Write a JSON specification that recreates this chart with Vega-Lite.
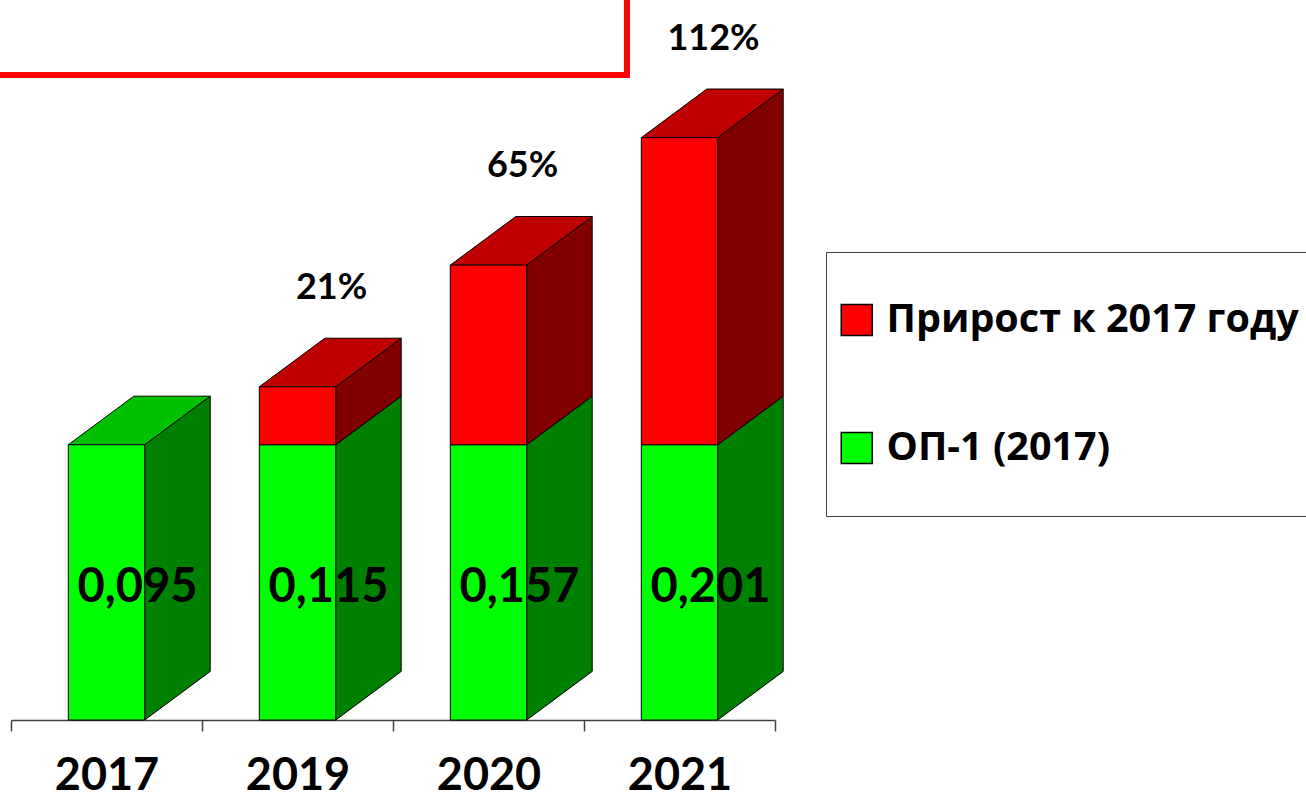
{
  "$schema": "https://vega.github.io/schema/vega-lite/v6.json",
  "width": 764,
  "height": 720,
  "padding": {"left": 11, "top": 0, "right": 531, "bottom": 79},
  "autosize": {"type": "none"},
  "background": "white",
  "config": {
    "view": {"stroke": null},
    "locale": {"number": {"decimal": ",", "thousands": " ", "grouping": [3], "currency": ["", ""], "percent": "%"}}
  },
  "data": {
    "values": [
      {"year": "2017", "series": "ОП-1 (2017)", "value": 0.095},
      {"year": "2019", "series": "ОП-1 (2017)", "value": 0.095},
      {"year": "2019", "series": "Прирост к 2017 году", "value": 0.020, "pct": 0.21},
      {"year": "2020", "series": "ОП-1 (2017)", "value": 0.095},
      {"year": "2020", "series": "Прирост к 2017 году", "value": 0.062, "pct": 0.65},
      {"year": "2021", "series": "ОП-1 (2017)", "value": 0.095},
      {"year": "2021", "series": "Прирост к 2017 году", "value": 0.106, "pct": 1.12}
    ]
  },
  "layer": [
    {
      "data": {"values": [{}]},
      "mark": {"type": "rect", "fill": "white", "stroke": "#FF0000", "strokeWidth": 6},
      "encoding": {
        "x": {"datum": -0.5, "type": "quantitative", "scale": {"domain": [0, 4], "nice": false, "zero": false}, "axis": null},
        "x2": {"datum": 3.225},
        "y": {"datum": 0.27, "type": "quantitative", "scale": {"domain": [0, 0.2485], "nice": false}, "axis": null},
        "y2": {"datum": 0.2226}
      }
    },
    {
      "transform": [
        {"stack": "value", "groupby": ["year"], "sort": [{"field": "series", "order": "ascending"}], "as": ["y0", "y1"]},
        {"window": [{"op": "dense_rank", "as": "rank"}], "sort": [{"field": "year"}]},
        {"calculate": "[0, 1]", "as": "edge"},
        {"flatten": ["edge"]},
        {"calculate": "datum.rank - 0.5 + 0.2 + datum.edge * 0.343", "as": "sx"},
        {"calculate": "datum.y0 + datum.edge * 0.01677", "as": "sLo"},
        {"calculate": "datum.y1 + datum.edge * 0.01677", "as": "sHi"}
      ],
      "mark": {"type": "area", "orient": "vertical", "stroke": "black", "strokeWidth": 1, "strokeJoin": "miter"},
      "encoding": {
        "x": {"field": "sx", "type": "quantitative", "scale": {"domain": [0, 4], "nice": false, "zero": false}, "axis": null},
        "y": {"field": "sLo", "type": "quantitative", "stack": null, "scale": {"domain": [0, 0.2485], "nice": false}, "axis": null},
        "y2": {"field": "sHi"},
        "fill": {"field": "series", "type": "nominal", "scale": {"domain": ["Прирост к 2017 году", "ОП-1 (2017)"], "range": ["#800000", "#008000"]}, "legend": null},
        "detail": {"field": "year"}
      }
    },
    {
      "transform": [
        {"stack": "value", "groupby": ["year"], "sort": [{"field": "series", "order": "ascending"}], "as": ["y0", "y1"]},
        {"window": [{"op": "dense_rank", "as": "rank"}], "sort": [{"field": "year"}]},
        {"joinaggregate": [{"op": "max", "field": "y1", "as": "top"}], "groupby": ["year"]},
        {"filter": "datum.y1 === datum.top"},
        {"calculate": "[0, 1]", "as": "edge"},
        {"flatten": ["edge"]},
        {"calculate": "datum.y1 + datum.edge * 0.01677", "as": "tY"},
        {"calculate": "datum.rank - 0.5 - 0.2 + datum.edge * 0.343", "as": "tL"},
        {"calculate": "datum.rank - 0.5 + 0.2 + datum.edge * 0.343", "as": "tR"}
      ],
      "mark": {"type": "area", "orient": "horizontal", "stroke": "black", "strokeWidth": 1, "strokeJoin": "miter"},
      "encoding": {
        "y": {"field": "tY", "type": "quantitative", "stack": null, "scale": {"domain": [0, 0.2485], "nice": false}, "axis": null},
        "x": {"field": "tL", "type": "quantitative", "stack": null, "scale": {"domain": [0, 4], "nice": false, "zero": false}, "axis": null},
        "x2": {"field": "tR"},
        "fill": {"field": "series", "type": "nominal", "scale": {"domain": ["Прирост к 2017 году", "ОП-1 (2017)"], "range": ["#C00000", "#00C000"]}, "legend": null},
        "detail": {"field": "year"}
      }
    },
    {
      "transform": [
        {"stack": "value", "groupby": ["year"], "sort": [{"field": "series", "order": "ascending"}], "as": ["y0", "y1"]}
      ],
      "mark": {"type": "bar", "stroke": "black", "strokeWidth": 1, "width": {"band": 0.4}},
      "encoding": {
        "x": {
          "field": "year", "type": "nominal",
          "scale": {"type": "band", "domain": ["2017", "2019", "2020", "2021"], "paddingInner": 0, "paddingOuter": 0},
          "axis": {
            "title": null, "labelAngle": 0, "tickBand": "extent", "grid": false,
            "labelFont": "Lato", "labelFontSize": 45, "labelFontWeight": "bold", "labelColor": "black",
            "labelPadding": 22, "tickSize": 11, "domainColor": "#404040", "tickColor": "#404040",
            "domainWidth": 1.5, "tickWidth": 1.5
          }
        },
        "y": {"field": "y1", "type": "quantitative", "stack": null, "scale": {"domain": [0, 0.2485], "nice": false}, "axis": null},
        "y2": {"field": "y0"},
        "fill": {
          "field": "series", "type": "nominal",
          "scale": {"domain": ["Прирост к 2017 году", "ОП-1 (2017)"], "range": ["#FF0000", "#00FF00"]},
          "legend": {
            "orient": "none", "legendX": 815, "legendY": 252, "direction": "vertical",
            "title": null, "clipHeight": 114,
            "symbolType": "square", "symbolSize": 961, "symbolStrokeColor": "black", "symbolStrokeWidth": 1.5,
            "labelFont": "Open Sans", "labelFontSize": 39.5, "labelFontWeight": "bold", "labelColor": "black",
            "labelOffset": 10, "rowPadding": 14, "padding": 11, "labelLimit": 800,
            "strokeColor": "#404040", "fillColor": "white", "cornerRadius": 0
          }
        }
      }
    },
    {
      "transform": [
        {"joinaggregate": [{"op": "sum", "field": "value", "as": "total"}], "groupby": ["year"]},
        {"filter": "datum.series === 'ОП-1 (2017)'"}
      ],
      "mark": {"type": "text", "font": "Lato", "fontSize": 47, "fontWeight": "bold", "color": "black", "baseline": "alphabetic", "align": "center", "dx": 31, "dy": 157},
      "encoding": {
        "x": {"field": "year", "type": "nominal", "scale": {"type": "band", "domain": ["2017", "2019", "2020", "2021"], "paddingInner": 0, "paddingOuter": 0}, "axis": null},
        "y": {"field": "value", "type": "quantitative", "stack": null, "scale": {"domain": [0, 0.2485], "nice": false}, "axis": null},
        "text": {"field": "total", "type": "quantitative", "format": ".3f"}
      }
    },
    {
      "transform": [
        {"joinaggregate": [{"op": "sum", "field": "value", "as": "total"}], "groupby": ["year"]},
        {"filter": "datum.series === 'Прирост к 2017 году'"}
      ],
      "mark": {"type": "text", "font": "Lato", "fontSize": 36, "fontWeight": "bold", "color": "black", "baseline": "alphabetic", "align": "center", "dx": 34, "dy": -88},
      "encoding": {
        "x": {"field": "year", "type": "nominal", "scale": {"type": "band", "domain": ["2017", "2019", "2020", "2021"], "paddingInner": 0, "paddingOuter": 0}, "axis": null},
        "y": {"field": "total", "type": "quantitative", "stack": null, "scale": {"domain": [0, 0.2485], "nice": false}, "axis": null},
        "text": {"field": "pct", "type": "quantitative", "format": ".0%"}
      }
    }
  ],
  "resolve": {"scale": {"x": "independent", "fill": "independent"}}
}
